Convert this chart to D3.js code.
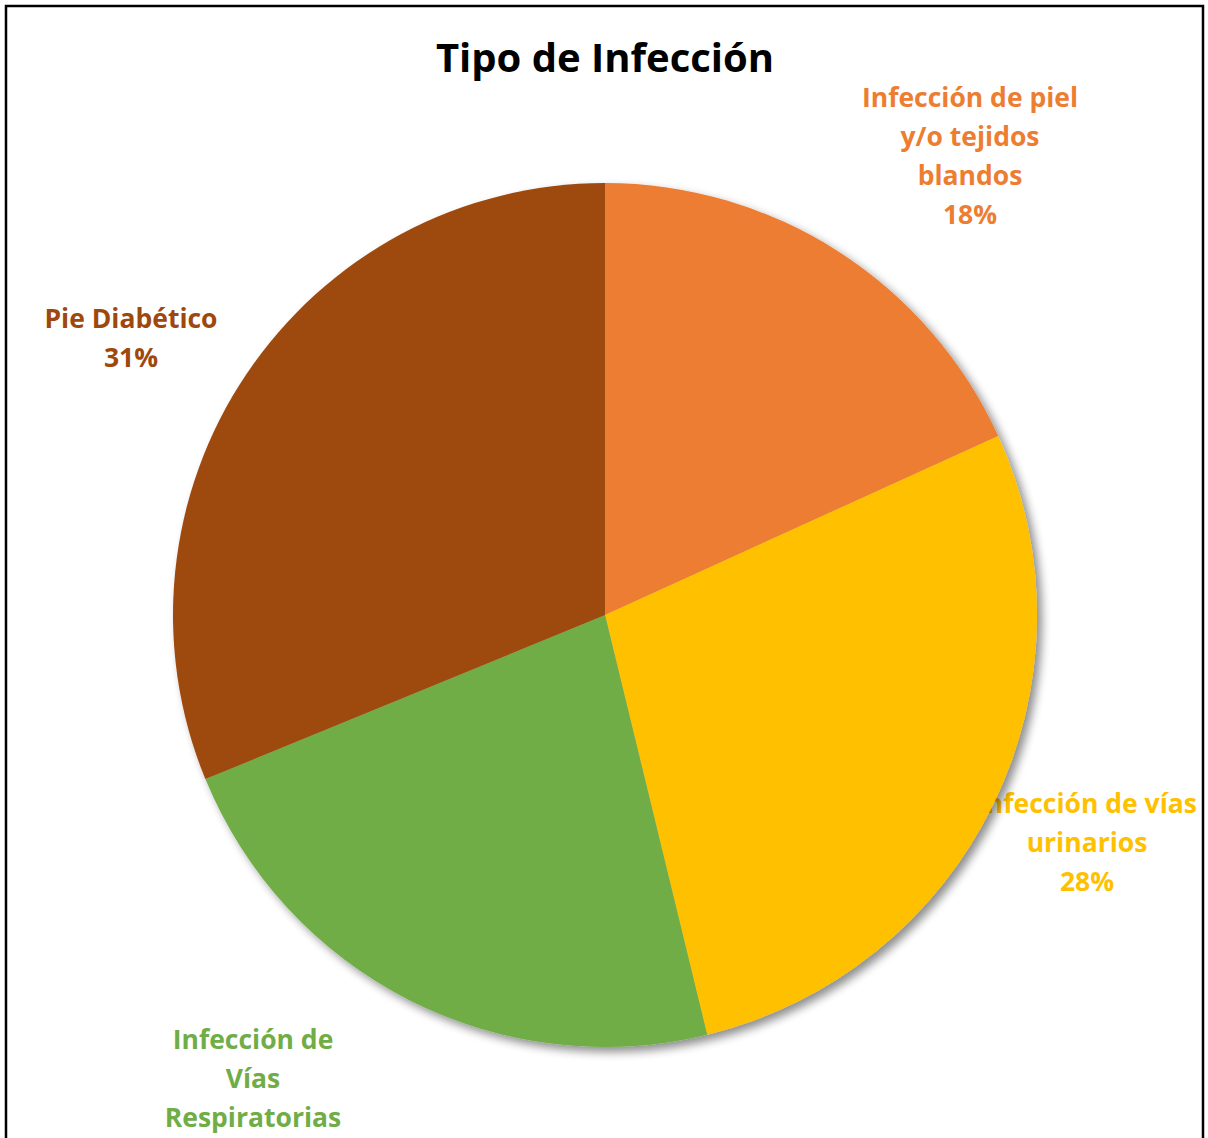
<!DOCTYPE html>
<html>
<head>
<meta charset="utf-8">
<script src="https://cdn.jsdelivr.net/npm/d3@7"></script>
<style>
  html, body { margin: 0; padding: 0; background: #fff; overflow: hidden; }
  text { font-family: "Open Sans", Lato, sans-serif; font-weight: bold; }
</style>
</head>
<body>
<div id="chart"></div>
<script>
// data (percent of cases)
const categories = [
  'Infección de piel y/o tejidos blandos',
  'Infección de vías urinarios',
  'Infección de Vías Respiratorias',
  'Pie Diabético',
];
const values = [18.2, 28.0, 22.6, 31.2];
const percentLabels = ['18%', '28%', '23%', '31%'];
// how each label breaks into lines, as in the picture
const labelLines = [
  ['Infección de piel', 'y/o tejidos', 'blandos'],
  ['Infección de vías', 'urinarios'],
  ['Infección de', 'Vías', 'Respiratorias'],
  ['Pie Diabético'],
];
const sliceColors = ['#ED7D31', '#FFC000', '#70AD47', '#9E480E'];

const width = 1208;
const height = 1138;
const cx = 605;
const cy = 615;
const radius = 432;
const lineHeight = 39;

// label anchor (centre of first line) relative to pie centre
const labelAnchor = [
  [365, -517],
  [482, 189],
  [-352, 425],
  [-474, -296],
];

const svg = d3
  .select('#chart')
  .append('svg')
  .attr('width', width)
  .attr('height', height);

const defs = svg.append('defs');
const shadow = defs
  .append('filter')
  .attr('id', 'shadow')
  .attr('x', '-10%')
  .attr('y', '-10%')
  .attr('width', '120%')
  .attr('height', '120%');
shadow
  .append('feGaussianBlur')
  .attr('in', 'SourceAlpha')
  .attr('stdDeviation', 5);
shadow
  .append('feOffset')
  .attr('dx', 5)
  .attr('dy', 5)
  .attr('result', 'off');
shadow
  .append('feComponentTransfer')
  .append('feFuncA')
  .attr('type', 'linear')
  .attr('slope', 0.45);
const merge = shadow.append('feMerge');
merge.append('feMergeNode');
merge.append('feMergeNode').attr('in', 'SourceGraphic');

svg
  .append('rect')
  .attr('width', width)
  .attr('height', height)
  .attr('fill', '#fff');

// chart frame (bottom edge is off the page)
svg
  .append('rect')
  .attr('x', 6)
  .attr('y', 6)
  .attr('width', 1197)
  .attr('height', 1200)
  .attr('fill', 'none')
  .attr('stroke', '#000')
  .attr('stroke-width', 2.5);

svg
  .append('text')
  .attr('x', cx)
  .attr('y', 72)
  .attr('text-anchor', 'middle')
  .attr('font-size', 40)
  .attr('fill', '#000')
  .text('Tipo de Infección');

const g = svg.append('g').attr('transform', `translate(${cx},${cy})`);

// labels go under the pie, as in the picture (the yellow one is partly covered)
const labels = g
  .selectAll('g.label')
  .data(categories)
  .enter()
  .append('g')
  .attr('class', 'label')
  .attr('transform', (d, i) => `translate(${labelAnchor[i][0]},${labelAnchor[i][1]})`);

labels.each(function(d, i) {
  const lines = labelLines[i].concat([percentLabels[i]]);
  d3.select(this)
    .selectAll('text')
    .data(lines)
    .enter()
    .append('text')
    .attr('x', 0)
    .attr('y', (t, j) => j * lineHeight)
    .attr('dy', '0.35em')
    .attr('text-anchor', 'middle')
    .attr('font-size', 26.5)
    .attr('fill', sliceColors[i])
    .text(t => t);
});

const pie = d3.pie().sort(null).value(d => d);
const arc = d3.arc().innerRadius(0).outerRadius(radius);

g
  .append('g')
  .attr('filter', 'url(#shadow)')
  .selectAll('path')
  .data(pie(values))
  .enter()
  .append('path')
  .attr('d', arc)
  .attr('fill', (d, i) => sliceColors[i]);
</script>
</body>
</html>
